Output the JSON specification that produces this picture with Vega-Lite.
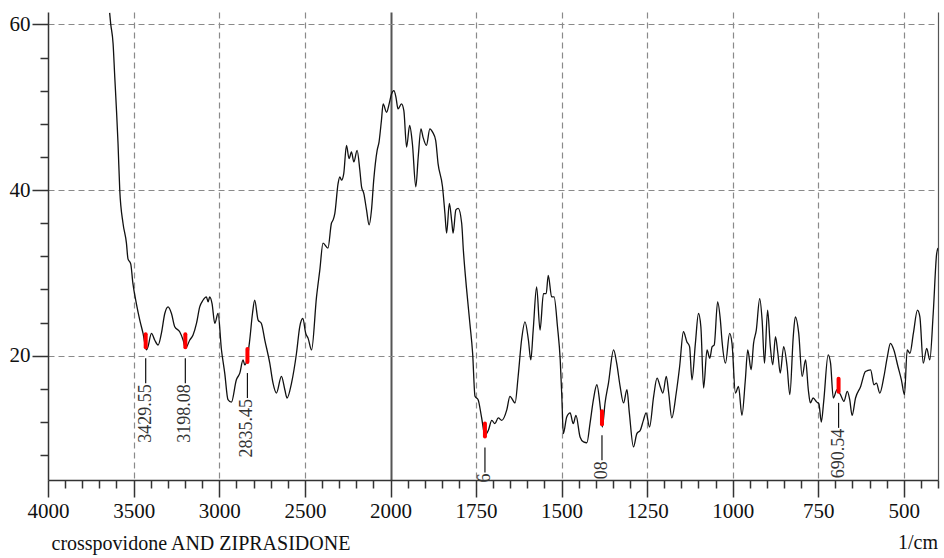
{
  "$schema": "https://vega.github.io/schema/vega-lite/v6.json",
  "width": 890,
  "height": 468,
  "autosize": {"type": "none"},
  "padding": {"left": 48, "top": 12, "right": 6, "bottom": 78},
  "background": "white",
  "config": {"view": {"stroke": null}, "font": "'Liberation Serif', 'Times New Roman', 'DejaVu Serif', serif"},
  "title": {"text": "1/cm", "orient": "bottom", "anchor": "end", "frame": "group", "font": "'Liberation Serif', 'Times New Roman', 'DejaVu Serif', serif", "fontSize": 20, "fontWeight": "normal", "color": "#111", "baseline": "alphabetic", "offset": -4},
  "datasets": {
    "curve": [
      {"w":3640,"v":61.4},{"w":3634,"v":60.1},{"w":3620,"v":57.7},{"w":3610,"v":53.6},{"w":3600,"v":49.6},{"w":3591,"v":45.6},{"w":3581,"v":40.0},{"w":3562,"v":36.0},{"w":3542,"v":33.6},{"w":3533,"v":31.7},{"w":3517,"v":31.1},{"w":3504,"v":28.7},{"w":3484,"v":26.3},{"w":3464,"v":24.3},{"w":3445,"v":22.7},{"w":3425,"v":20.7},{"w":3416,"v":21.1},{"w":3396,"v":22.7},{"w":3377,"v":21.9},{"w":3357,"v":21.3},{"w":3338,"v":22.7},{"w":3318,"v":25.1},{"w":3299,"v":25.9},{"w":3279,"v":25.1},{"w":3260,"v":23.5},{"w":3231,"v":22.9},{"w":3211,"v":21.9},{"w":3197,"v":20.9},{"w":3172,"v":21.9},{"w":3153,"v":22.5},{"w":3133,"v":23.9},{"w":3114,"v":25.9},{"w":3095,"v":26.7},{"w":3075,"v":27.1},{"w":3065,"v":26.5},{"w":3056,"v":27.1},{"w":3042,"v":26.3},{"w":3026,"v":23.9},{"w":3007,"v":25.1},{"w":2987,"v":20.7},{"w":2968,"v":17.9},{"w":2949,"v":14.7},{"w":2929,"v":14.4},{"w":2900,"v":17.1},{"w":2880,"v":17.9},{"w":2861,"v":19.5},{"w":2851,"v":18.9},{"w":2838,"v":19.5},{"w":2822,"v":21.9},{"w":2806,"v":25.1},{"w":2793,"v":26.7},{"w":2773,"v":24.3},{"w":2754,"v":23.9},{"w":2734,"v":21.9},{"w":2705,"v":19.1},{"w":2686,"v":16.7},{"w":2666,"v":15.5},{"w":2637,"v":17.5},{"w":2617,"v":15.9},{"w":2604,"v":14.9},{"w":2578,"v":16.7},{"w":2549,"v":20.3},{"w":2530,"v":23.5},{"w":2512,"v":24.5},{"w":2495,"v":22.7},{"w":2481,"v":22.1},{"w":2461,"v":20.7},{"w":2432,"v":27.1},{"w":2413,"v":30.3},{"w":2394,"v":33.6},{"w":2365,"v":33.0},{"w":2345,"v":36.0},{"w":2335,"v":36.4},{"w":2325,"v":37.2},{"w":2306,"v":40.8},{"w":2296,"v":41.6},{"w":2286,"v":41.2},{"w":2273,"v":42.0},{"w":2257,"v":45.4},{"w":2242,"v":43.8},{"w":2228,"v":44.6},{"w":2214,"v":43.4},{"w":2195,"v":44.8},{"w":2179,"v":42.4},{"w":2169,"v":40.4},{"w":2156,"v":39.6},{"w":2140,"v":37.6},{"w":2125,"v":35.8},{"w":2111,"v":37.6},{"w":2098,"v":41.2},{"w":2078,"v":44.8},{"w":2067,"v":45.8},{"w":2053,"v":48.4},{"w":2043,"v":50.4},{"w":2023,"v":49.4},{"w":2008,"v":50.4},{"w":1997,"v":51.6},{"w":1990,"v":52.0},{"w":1984,"v":51.2},{"w":1978,"v":49.8},{"w":1968,"v":50.4},{"w":1961,"v":49.6},{"w":1953,"v":45.2},{"w":1944,"v":47.8},{"w":1936,"v":45.6},{"w":1926,"v":40.4},{"w":1919,"v":44.0},{"w":1911,"v":47.4},{"w":1905,"v":46.4},{"w":1895,"v":45.4},{"w":1885,"v":47.4},{"w":1877,"v":47.0},{"w":1868,"v":46.0},{"w":1861,"v":43.2},{"w":1848,"v":40.4},{"w":1841,"v":37.2},{"w":1836,"v":34.8},{"w":1828,"v":38.4},{"w":1821,"v":36.2},{"w":1817,"v":34.8},{"w":1809,"v":37.6},{"w":1802,"v":37.8},{"w":1792,"v":36.0},{"w":1787,"v":32.7},{"w":1778,"v":28.2},{"w":1768,"v":23.9},{"w":1760,"v":20.3},{"w":1753,"v":15.1},{"w":1744,"v":14.7},{"w":1734,"v":12.6},{"w":1724,"v":10.4},{"w":1714,"v":11.0},{"w":1704,"v":12.2},{"w":1695,"v":11.8},{"w":1685,"v":12.5},{"w":1675,"v":12.2},{"w":1660,"v":13.5},{"w":1651,"v":15.1},{"w":1636,"v":14.3},{"w":1627,"v":17.5},{"w":1617,"v":21.9},{"w":1607,"v":24.1},{"w":1597,"v":21.9},{"w":1590,"v":19.5},{"w":1583,"v":23.1},{"w":1573,"v":28.3},{"w":1563,"v":23.1},{"w":1553,"v":27.5},{"w":1545,"v":27.5},{"w":1539,"v":29.7},{"w":1529,"v":27.1},{"w":1522,"v":27.1},{"w":1512,"v":23.5},{"w":1504,"v":19.5},{"w":1499,"v":14.7},{"w":1495,"v":10.6},{"w":1485,"v":12.6},{"w":1475,"v":13.1},{"w":1466,"v":11.8},{"w":1458,"v":12.8},{"w":1446,"v":10.2},{"w":1436,"v":9.6},{"w":1426,"v":9.5},{"w":1417,"v":11.8},{"w":1407,"v":14.7},{"w":1397,"v":16.5},{"w":1387,"v":13.8},{"w":1381,"v":11.4},{"w":1373,"v":14.3},{"w":1363,"v":16.7},{"w":1348,"v":20.7},{"w":1339,"v":19.1},{"w":1329,"v":16.3},{"w":1319,"v":14.3},{"w":1309,"v":15.9},{"w":1302,"v":13.1},{"w":1290,"v":9.0},{"w":1280,"v":10.6},{"w":1270,"v":11.0},{"w":1261,"v":12.2},{"w":1253,"v":13.1},{"w":1243,"v":11.4},{"w":1231,"v":15.1},{"w":1221,"v":17.3},{"w":1212,"v":16.3},{"w":1204,"v":15.5},{"w":1194,"v":17.5},{"w":1187,"v":15.5},{"w":1178,"v":12.5},{"w":1165,"v":15.5},{"w":1155,"v":18.7},{"w":1144,"v":22.9},{"w":1134,"v":21.7},{"w":1126,"v":21.1},{"w":1119,"v":17.1},{"w":1109,"v":21.5},{"w":1100,"v":25.1},{"w":1093,"v":23.5},{"w":1085,"v":16.1},{"w":1075,"v":20.7},{"w":1067,"v":19.7},{"w":1060,"v":21.1},{"w":1054,"v":21.3},{"w":1044,"v":26.5},{"w":1036,"v":24.3},{"w":1031,"v":21.7},{"w":1021,"v":19.1},{"w":1009,"v":22.7},{"w":1002,"v":21.5},{"w":992,"v":15.5},{"w":983,"v":16.3},{"w":973,"v":12.8},{"w":963,"v":17.1},{"w":956,"v":20.7},{"w":946,"v":18.3},{"w":939,"v":21.5},{"w":931,"v":23.1},{"w":921,"v":26.9},{"w":914,"v":24.3},{"w":907,"v":19.1},{"w":898,"v":25.5},{"w":890,"v":21.1},{"w":883,"v":18.9},{"w":875,"v":22.3},{"w":868,"v":20.3},{"w":861,"v":17.9},{"w":851,"v":21.1},{"w":841,"v":18.7},{"w":833,"v":15.3},{"w":823,"v":22.3},{"w":817,"v":24.7},{"w":807,"v":22.7},{"w":797,"v":17.5},{"w":787,"v":19.5},{"w":779,"v":15.9},{"w":773,"v":14.3},{"w":765,"v":14.9},{"w":754,"v":14.4},{"w":748,"v":14.2},{"w":741,"v":12.0},{"w":734,"v":14.5},{"w":721,"v":20.1},{"w":714,"v":19.1},{"w":706,"v":14.9},{"w":695,"v":15.9},{"w":685,"v":15.3},{"w":675,"v":14.5},{"w":665,"v":15.7},{"w":658,"v":14.7},{"w":651,"v":12.8},{"w":641,"v":14.9},{"w":626,"v":16.3},{"w":612,"v":18.1},{"w":597,"v":18.3},{"w":587,"v":16.5},{"w":580,"v":16.7},{"w":570,"v":15.5},{"w":558,"v":17.5},{"w":548,"v":19.9},{"w":539,"v":21.5},{"w":529,"v":20.7},{"w":517,"v":18.7},{"w":507,"v":17.1},{"w":498,"v":15.3},{"w":490,"v":20.7},{"w":482,"v":20.3},{"w":472,"v":22.7},{"w":460,"v":25.5},{"w":453,"v":24.7},{"w":443,"v":19.1},{"w":433,"v":20.9},{"w":424,"v":19.5},{"w":414,"v":25.1},{"w":404,"v":32.3},{"w":400,"v":33.0}
    ],
    "peaks": [
      {"w":3429.55,"v":20.8,"label":"3429.55"},
      {"w":3198.08,"v":20.8,"label":"3198.08"},
      {"w":2835.45,"v":19.0,"label":"2835.45"},
      {"w":1724,"v":10.0,"label":"6"},
      {"w":1382,"v":11.5,"label":"08"},
      {"w":690.54,"v":15.4,"label":"690.54"}
    ]
  },
  "encoding": {
    "x": {
      "field": "w", "type": "quantitative",
      "scale": {"domain": [4000, 2000, 400], "range": [0, 342.5, 890], "nice": false, "zero": false},
      "axis": {
        "values": [4000,3900,3800,3700,3600,3500,3400,3300,3200,3100,3000,2900,2800,2700,2600,2500,2400,2300,2200,2100,2000,1950,1900,1850,1800,1750,1700,1650,1600,1550,1500,1450,1400,1350,1300,1250,1200,1150,1100,1050,1000,950,900,850,800,750,700,650,600,550,500,450,400],
        "format": "d",
        "labelExpr": "indexof([4000,3500,3000,2500,2000,1750,1500,1250,1000,750,500], datum.value) >= 0 ? datum.label : ''",
        "labelFont": "'Liberation Serif', 'Times New Roman', 'DejaVu Serif', serif", "labelFontSize": 21, "labelColor": "#111", "labelPadding": 3,
        "labelFlush": false, "labelOverlap": false, "labelBound": false,
        "tickColor": "#333", "tickWidth": 1.5,
        "tickSize": {"condition": {"test": "indexof([4000,3500,3000,2500,2000,1750,1500,1250,1000,750,500], datum.value) >= 0", "value": 17}, "value": 8},
        "domainColor": "#333", "domainWidth": 1.5,
        "grid": true,
        "gridColor": {"condition": {"test": "datum.value === 2000 || datum.value === 400", "value": "#555555"}, "value": "#8a8a8a"},
        "gridDash": {"condition": {"test": "datum.value === 2000 || datum.value === 400", "value": []}, "value": [6, 4]},
        "gridWidth": {"condition": {"test": "datum.value === 2000", "value": 2}, "value": 1.2},
        "gridOpacity": {"condition": {"test": "indexof([3500,3000,2500,2000,1750,1500,1250,1000,750,500,400], datum.value) >= 0", "value": 1}, "value": 0},
        "title": "crosspovidone AND ZIPRASIDONE",
        "titleFont": "'Liberation Serif', 'Times New Roman', 'DejaVu Serif', serif", "titleFontSize": 20, "titleFontWeight": "normal", "titleColor": "#111",
        "titleAnchor": "start", "titleAlign": "left", "titleX": 3, "titleY": 69, "titleBaseline": "alphabetic"
      }
    },
    "y": {
      "field": "v", "type": "quantitative",
      "scale": {"domain": [5, 61.5], "nice": false, "zero": false},
      "axis": {
        "values": [8,12,16,20,24,28,32,36,40,44,48,52,56,60],
        "labelExpr": "datum.value % 20 === 0 ? datum.label : ''",
        "labelFont": "'Liberation Serif', 'Times New Roman', 'DejaVu Serif', serif", "labelFontSize": 21, "labelColor": "#111", "labelPadding": 2,
        "labelOverlap": false, "labelBound": false, "labelFlush": false,
        "tickColor": "#333", "tickWidth": 1.5,
        "tickSize": {"condition": {"test": "datum.value % 20 === 0", "value": 16}, "value": 8},
        "domainColor": "#333", "domainWidth": 1.5,
        "grid": true, "gridColor": "#8a8a8a", "gridDash": [6, 4], "gridWidth": 1.2,
        "gridOpacity": {"condition": {"test": "datum.value % 20 === 0", "value": 1}, "value": 0},
        "title": null
      }
    }
  },
  "layer": [
    {
      "data": {"name": "curve"},
      "mark": {"type": "line", "interpolate": "monotone", "color": "#111", "strokeWidth": 1.3, "clip": true}
    },
    {
      "data": {"name": "peaks"},
      "mark": {"type": "rule", "color": "#ff0000", "strokeWidth": 4, "strokeCap": "round", "yOffset": -2, "y2Offset": -15},
      "encoding": {"y2": {"field": "v"}}
    },
    {
      "data": {"name": "peaks"},
      "mark": {"type": "rule", "color": "#111", "strokeWidth": 1.2, "yOffset": 9, "y2Offset": 34},
      "encoding": {"y2": {"field": "v"}}
    },
    {
      "data": {"name": "peaks"},
      "mark": {"type": "text", "angle": 270, "align": "right", "baseline": "middle", "yOffset": 35, "font": "'Liberation Serif', 'Times New Roman', 'DejaVu Serif', serif", "fontSize": 18, "color": "#333"},
      "encoding": {"text": {"field": "label"}}
    }
  ]
}
